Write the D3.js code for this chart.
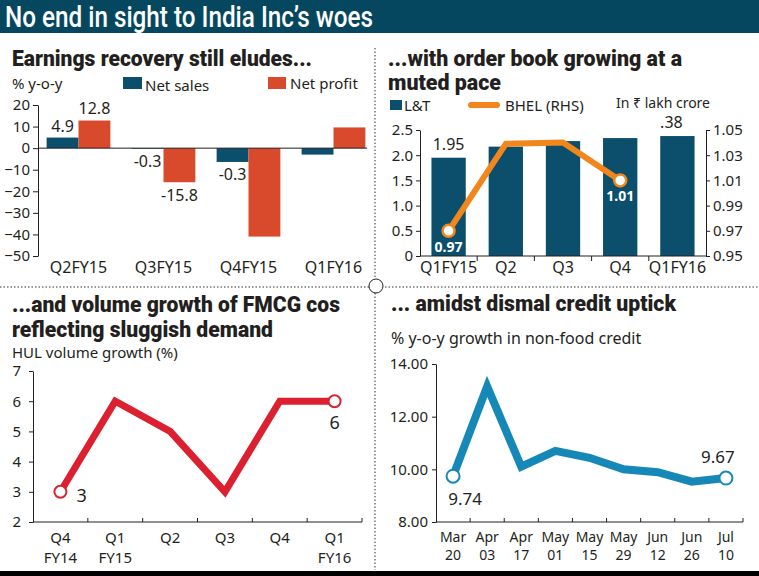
<!DOCTYPE html>
<html>
<head>
<meta charset="utf-8">
<script src="https://cdn.jsdelivr.net/npm/d3@7"></script>
<style>
  body { margin: 0; background: #fff; }
  svg text { font-family: "Noto Sans", "Open Sans", sans-serif; }
  svg text.ttl { font-family: Roboto, Lato, "DejaVu Sans", sans-serif; font-weight: 900; }
</style>
</head>
<body>
<div id="chart"></div>
<script>
const W = 759, H = 576;
const teal = "#0c4f6d", rust = "#d94a2d", orange = "#f0861c", red = "#dc2030", blue = "#1588b8";
const ink = "#231f20";

// earnings: % y-o-y
const earnCats = ["Q2FY15", "Q3FY15", "Q4FY15", "Q1FY16"];
const netSales = [4.9, -0.3, -6.4, -3.0];
const netProfit = [12.8, -15.8, -41.0, 9.6];
const netSalesLabels = ["4.9", "-0.3", "-0.3", ""];
const netProfitLabels = ["12.8", "-15.8", "", ""];
const earnTicks = [20, 10, 0, -10, -20, -30, -40, -50];

// order book, Rs lakh crore
const orderCats = ["Q1FY15", "Q2", "Q3", "Q4", "Q1FY16"];
const lntBook = [1.95, 2.17, 2.28, 2.34, 2.38];
const lntLabels = ["1.95", "", "", "", ".38"];
const bhelBook = [0.97, 1.039, 1.04, 1.01];
const bhelLabels = ["0.97", "", "", "1.01"];
const lntTicks = [0, 0.5, 1.0, 1.5, 2.0, 2.5];
const bhelTicks = [0.95, 0.97, 0.99, 1.01, 1.03, 1.05];

// HUL volume growth %
const hulQuarters = ["Q4", "Q1", "Q2", "Q3", "Q4", "Q1"];
const hulYears = ["FY14", "FY15", "", "", "", "FY16"];
const hulVolume = [3, 6, 5, 3, 6, 6];
const hulTicks = [2, 3, 4, 5, 6, 7];

// non-food credit growth
const creditMonths = ["Mar", "Apr", "Apr", "May", "May", "May", "Jun", "Jun", "Jul"];
const creditDays = ["20", "03", "17", "01", "15", "29", "12", "26", "10"];
const creditGrowth = [9.74, 13.15, 10.1, 10.7, 10.44, 10.0, 9.89, 9.53, 9.67];
const creditTicks = [8, 10, 12, 14];

const svg = d3.select("#chart").append("svg")
  .attr("width", W).attr("height", H);

svg.append("rect").attr("width", W).attr("height", H).attr("fill", "#fff");

function label(x, y, s, size, anchor) {
  return svg.append("text")
    .attr("x", x).attr("y", y)
    .attr("font-size", size)
    .attr("text-anchor", anchor || "start")
    .attr("fill", ink)
    .text(s);
}

function title(x, y, s, len) {
  return label(x, y, s, 22)
    .attr("class", "ttl")
    .attr("textLength", len)
    .attr("lengthAdjust", "spacingAndGlyphs");
}

function styleAxis(g, size) {
  g.selectAll("text").attr("font-size", size).attr("fill", ink);
  g.selectAll("line,path").attr("stroke", ink);
}

// header band
svg.append("rect").attr("width", W).attr("height", 33).attr("fill", "#05475e");
svg.append("text")
  .attr("x", 5).attr("y", 27)
  .attr("font-size", 29)
  .attr("fill", "#fff")
  .attr("textLength", 368)
  .attr("lengthAdjust", "spacingAndGlyphs")
  .style("font-family", "Roboto, sans-serif")
  .style("font-weight", 500)
  .text("No end in sight to India Inc\u2019s woes");

// panel separators
const dots = svg.append("g").attr("stroke", "#333").attr("stroke-width", 1).attr("stroke-dasharray", "1.5,2");
dots.append("line").attr("x1", 0).attr("x2", W).attr("y1", 287).attr("y2", 287);
dots.append("line").attr("x1", 375).attr("x2", 375).attr("y1", 48).attr("y2", 570);
svg.append("circle").attr("cx", 376).attr("cy", 286).attr("r", 7)
  .attr("fill", "#fff").attr("stroke", ink).attr("stroke-width", 1);
svg.append("rect").attr("x", 0).attr("y", 571).attr("width", W).attr("height", 5).attr("fill", "#000");

// ---------- top left: earnings ----------
title(12, 66, "Earnings recovery still eludes...", 300);
label(12, 89, "% y-o-y", 15);
svg.append("rect").attr("x", 123).attr("y", 77).attr("width", 19).attr("height", 12).attr("fill", teal);
label(145, 91, "Net sales", 15);
svg.append("rect").attr("x", 268).attr("y", 77).attr("width", 18).attr("height", 12).attr("fill", rust);
label(290, 89, "Net profit", 15);

const ySales = d3.scaleLinear().domain([-50, 20]).range([256, 105]);
const xEarn = d3.scaleBand().domain(earnCats).range([36, 376]).paddingInner(0.25).paddingOuter(0.125);
const half = xEarn.bandwidth() / 2;

const p1 = svg.append("g");
p1.selectAll(".sales").data(netSales).join("rect")
  .attr("class", "sales")
  .attr("x", (d, i) => xEarn(earnCats[i]))
  .attr("y", d => ySales(Math.max(0, d)))
  .attr("width", half)
  .attr("height", d => Math.abs(ySales(d) - ySales(0)))
  .attr("fill", teal);
p1.selectAll(".profit").data(netProfit).join("rect")
  .attr("class", "profit")
  .attr("x", (d, i) => xEarn(earnCats[i]) + half)
  .attr("y", d => ySales(Math.max(0, d)))
  .attr("width", half)
  .attr("height", d => Math.abs(ySales(d) - ySales(0)))
  .attr("fill", rust);

netSales.forEach((d, i) => {
  if (!netSalesLabels[i]) return;
  label(xEarn(earnCats[i]) + half / 2, d >= 0 ? ySales(d) - 6 : ySales(d) + 18, netSalesLabels[i], 16, "middle");
});
netProfit.forEach((d, i) => {
  if (!netProfitLabels[i]) return;
  label(xEarn(earnCats[i]) + half * 1.5, d >= 0 ? ySales(d) - 7 : ySales(d) + 19, netProfitLabels[i], 16, "middle");
});

p1.append("g").attr("transform", "translate(38,0)")
  .call(d3.axisLeft(ySales).tickValues(earnTicks).tickSize(5).tickSizeOuter(0).tickPadding(3))
  .call(g => styleAxis(g, 15));
p1.append("line").attr("x1", 38).attr("x2", 367)
  .attr("y1", ySales(0)).attr("y2", ySales(0)).attr("stroke", ink);
p1.append("g").attr("transform", "translate(0,262)")
  .call(d3.axisBottom(xEarn).tickSize(0).tickPadding(0))
  .call(g => g.select(".domain").remove())
  .call(g => styleAxis(g, 16));

// ---------- top right: order book ----------
title(388, 66, "...with order book growing at a", 294);
title(388, 90, "muted pace", 113);
svg.append("rect").attr("x", 390).attr("y", 100).attr("width", 12).attr("height", 10).attr("fill", teal);
label(404, 111, "L&T", 15);
svg.append("line").attr("x1", 471).attr("x2", 497).attr("y1", 105).attr("y2", 105)
  .attr("stroke", orange).attr("stroke-width", 6).attr("stroke-linecap", "round");
label(505, 111, "BHEL (RHS)", 15);
label(616, 108, "In \u20B9 lakh crore", 14);

const xOrd = d3.scaleBand().domain(orderCats).range([420, 706]).paddingInner(0.4).paddingOuter(0.2);
const yLnt = d3.scaleLinear().domain([0, 2.5]).range([256, 130]);
const yBhel = d3.scaleLinear().domain([0.95, 1.05]).range([256, 130]);
const bw2 = xOrd.bandwidth();
const ordMid = i => xOrd(orderCats[i]) + bw2 / 2;

const p2 = svg.append("g");
p2.selectAll(".lnt").data(lntBook).join("rect")
  .attr("class", "lnt")
  .attr("x", (d, i) => xOrd(orderCats[i]))
  .attr("y", d => yLnt(d))
  .attr("width", bw2)
  .attr("height", d => yLnt(0) - yLnt(d))
  .attr("fill", teal);

p2.append("g").attr("transform", "translate(420,0)")
  .call(d3.axisLeft(yLnt).tickValues(lntTicks).tickSize(4).tickSizeOuter(0).tickPadding(3)
    .tickFormat(d => d === 0 ? "0" : d3.format(".1f")(d)))
  .call(g => styleAxis(g, 15));
p2.append("g").attr("transform", "translate(706,0)")
  .call(d3.axisRight(yBhel).tickValues(bhelTicks).tickSize(4).tickSizeOuter(0).tickPadding(3)
    .tickFormat(d3.format(".2f")))
  .call(g => styleAxis(g, 15));
p2.append("line").attr("x1", 420).attr("x2", 706).attr("y1", 256).attr("y2", 256).attr("stroke", ink);
orderCats.slice(1).forEach(c => {
  const bx = xOrd(c) - xOrd.step() * xOrd.paddingInner() / 2;
  p2.append("line").attr("x1", bx).attr("x2", bx).attr("y1", 256).attr("y2", 261).attr("stroke", ink);
});
p2.append("g").attr("transform", "translate(0,262)")
  .call(d3.axisBottom(xOrd).tickSize(0).tickPadding(0))
  .call(g => g.select(".domain").remove())
  .call(g => styleAxis(g, 16));

p2.append("path").datum(bhelBook)
  .attr("d", d3.line().x((d, i) => ordMid(i)).y(d => yBhel(d)))
  .attr("fill", "none").attr("stroke", orange).attr("stroke-width", 6)
  .attr("stroke-linejoin", "round");
[0, bhelBook.length - 1].forEach(i => {
  p2.append("circle").attr("cx", ordMid(i)).attr("cy", yBhel(bhelBook[i])).attr("r", 6)
    .attr("fill", "#fff").attr("stroke", orange).attr("stroke-width", 2.5);
});
bhelBook.forEach((d, i) => {
  if (!bhelLabels[i]) return;
  label(ordMid(i), yBhel(d) + 21, bhelLabels[i], 14, "middle")
    .attr("fill", "#fff").attr("font-weight", "bold");
});
lntBook.forEach((d, i) => {
  if (!lntLabels[i]) return;
  // the last label is clipped to ".38" in the source, so it sits a little left
  label(ordMid(i) - (i === lntBook.length - 1 ? 6 : 0), yLnt(d) - 8, lntLabels[i], 16, "middle");
});

// ---------- bottom left: HUL ----------
title(12, 312, "...and volume growth of FMCG cos", 328);
title(12, 337, "reflecting sluggish demand", 261);
label(12, 358, "HUL volume growth (%)", 15);

const xHul = d3.scaleBand().domain(d3.range(hulVolume.length)).range([33, 362]);
const yHul = d3.scaleLinear().domain([2, 7]).range([522, 371]);
const hulMid = i => xHul(i) + xHul.bandwidth() / 2;

const p3 = svg.append("g");
p3.append("g").attr("transform", "translate(33,0)")
  .call(d3.axisLeft(yHul).tickValues(hulTicks).tickSize(4).tickSizeOuter(0).tickPadding(8)
    .tickFormat(d3.format("d")))
  .call(g => styleAxis(g, 15));
p3.append("line").attr("x1", 33).attr("x2", 362).attr("y1", 522).attr("y2", 522).attr("stroke", ink);
hulVolume.forEach((d, i) => {
  const bx = xHul(i) + xHul.bandwidth();
  p3.append("line").attr("x1", bx).attr("x2", bx).attr("y1", 522).attr("y2", 518).attr("stroke", ink);
  label(hulMid(i), 543, hulQuarters[i], 15, "middle");
  if (hulYears[i]) label(hulMid(i), 563, hulYears[i], 15, "middle");
});
p3.append("path").datum(hulVolume)
  .attr("d", d3.line().x((d, i) => hulMid(i)).y(d => yHul(d)))
  .attr("fill", "none").attr("stroke", red).attr("stroke-width", 7);
[0, hulVolume.length - 1].forEach(i => {
  p3.append("circle").attr("cx", hulMid(i)).attr("cy", yHul(hulVolume[i])).attr("r", 6)
    .attr("fill", "#fff").attr("stroke", red).attr("stroke-width", 2);
});
label(hulMid(0) + 16, yHul(hulVolume[0]) + 10, String(hulVolume[0]), 18);
label(hulMid(5), yHul(hulVolume[5]) + 28, String(hulVolume[5]), 18, "middle");

// ---------- bottom right: credit ----------
title(391, 311, "... amidst dismal credit uptick", 285);
label(391, 344, "% y-o-y growth in non-food credit", 16);

const xCred = d3.scaleBand().domain(d3.range(creditGrowth.length)).range([436, 743]);
const yCred = d3.scaleLinear().domain([8, 14]).range([522, 364]);
const credMid = i => xCred(i) + xCred.bandwidth() / 2;

const p4 = svg.append("g");
p4.append("g").attr("transform", "translate(436,0)")
  .call(d3.axisLeft(yCred).tickValues(creditTicks).tickSize(4).tickSizeOuter(0).tickPadding(4)
    .tickFormat(d3.format(".2f")))
  .call(g => styleAxis(g, 15));
p4.append("line").attr("x1", 436).attr("x2", 743).attr("y1", 522).attr("y2", 522).attr("stroke", ink);
creditGrowth.forEach((d, i) => {
  const bx = xCred(i) + xCred.bandwidth();
  p4.append("line").attr("x1", bx).attr("x2", bx).attr("y1", 522).attr("y2", 518).attr("stroke", ink);
  label(credMid(i), 542, creditMonths[i], 14, "middle");
  label(credMid(i), 560, creditDays[i], 14, "middle");
});
p4.append("path").datum(creditGrowth)
  .attr("d", d3.line().x((d, i) => credMid(i)).y(d => yCred(d)))
  .attr("fill", "none").attr("stroke", blue).attr("stroke-width", 8);
[0, creditGrowth.length - 1].forEach(i => {
  p4.append("circle").attr("cx", credMid(i)).attr("cy", yCred(creditGrowth[i])).attr("r", 6.5)
    .attr("fill", "#fff").attr("stroke", blue).attr("stroke-width", 2);
});
label(credMid(0) + 12, yCred(creditGrowth[0]) + 29, d3.format(".2f")(creditGrowth[0]), 17, "middle");
const last = creditGrowth.length - 1;
label(credMid(last) - 8, yCred(creditGrowth[last]) - 15, d3.format(".2f")(creditGrowth[last]), 17, "middle");
</script>
</body>
</html>
